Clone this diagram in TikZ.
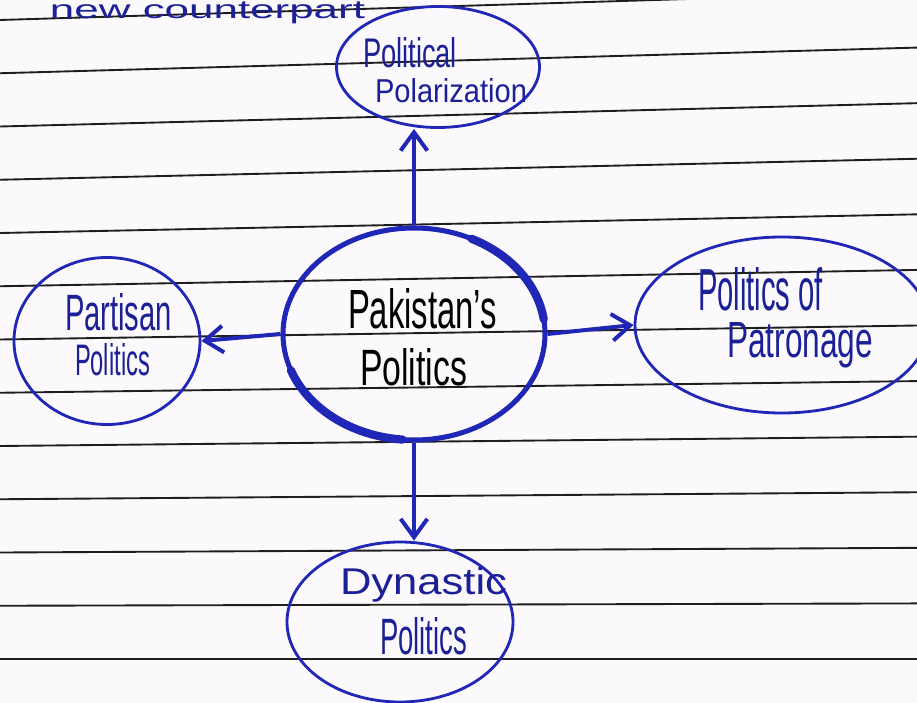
\documentclass[tikz,border=0pt]{standalone}
\usepackage{fontspec}
\usepackage{graphicx}
\setmainfont{Liberation Sans}
\usetikzlibrary{shapes.geometric,arrows.meta}
\definecolor{ink}{RGB}{32,38,182}
\definecolor{inkdark}{RGB}{28,32,150}
\definecolor{paper}{RGB}{251,249,251}
\definecolor{rulecol}{RGB}{30,30,30}
\tikzset{
  rule/.style={draw=rulecol,line width=1.6pt},
  bubble/.style={ellipse,draw=ink,line width=2.4pt,inner sep=0pt},
  centrebubble/.style={ellipse,draw=ink,line width=4.3pt,inner sep=0pt},
  thickink/.style={draw=ink,line width=7pt,line cap=round},
  conn/.style={draw=ink,line width=3.4pt,-{Straight Barb[length=0.55cm,width=0.8cm]}},
  lbl/.style={inner sep=0pt,outer sep=0pt,anchor=base west,text=inkdark},
  clbl/.style={inner sep=0pt,outer sep=0pt,anchor=base west,text=black}
}
\begin{document}
\begin{tikzpicture}[x=0.03cm,y=-0.03cm]
\useasboundingbox (0,0) rectangle (917,703);
\clip (0,0) rectangle (917,703);
\fill[paper] (0,0) rectangle (917,703);
% ruled paper
\foreach \i in {0,...,12}{
  \pgfmathsetmacro\yl{20+53.25*\i}
  \pgfmathsetmacro\yr{\yl-28*(1-\i/12)}
  \draw[rule] (0,\yl) -- (917,\yr);
}
% heading
\node[lbl] (head) at (50,19) {\resizebox{9.45cm}{0.5cm}{new counterpart}};
% bubbles
\node[centrebubble,minimum width=7.86cm,minimum height=6.36cm] (pak) at (414,334) {};
\node[bubble,minimum width=6.09cm,minimum height=3.63cm] (polar) at (438,67) {};
\node[bubble,minimum width=5.58cm,minimum height=5.01cm] (part) at (107,341) {};
\node[bubble,minimum width=8.82cm,minimum height=5.28cm] (patr) at (782,325) {};
\node[bubble,minimum width=6.78cm,minimum height=4.8cm] (dyn) at (400,622) {};
% thicker strokes on the centre circle
\draw[thickink] ([shift={(64:3.93cm and 3.18cm)}]pak.center) arc[start angle=64,end angle=8,x radius=3.93cm,y radius=3.18cm];
\draw[thickink] ([shift={(200:3.93cm and 3.18cm)}]pak.center) arc[start angle=200,end angle=265,x radius=3.93cm,y radius=3.18cm];
% connectors
\draw[conn] (pak.north) -- (pak.north |- polar.south);
\draw[conn] (pak.west) -- (part.east);
\draw[conn] (pak.east) -- (patr.west);
\draw[conn] (pak.south) -- (pak.south |- dyn.north);
% labels
\node[clbl] (t1) at (348,328) {\resizebox{4.47cm}{1.2cm}{Pakistan's}};
\node[clbl] (t2) at (360,385) {\resizebox{3.21cm}{1.11cm}{Politics}};
\node[lbl] (t3) at (363,67) {\resizebox{2.82cm}{0.9cm}{Political}};
\node[lbl] (t4) at (375,102) {\resizebox{4.56cm}{0.72cm}{Polarization}};
\node[lbl] (t5) at (65,330) {\resizebox{3.21cm}{1.11cm}{Partisan}};
\node[lbl] (t6) at (75,375) {\resizebox{2.25cm}{0.96cm}{Politics}};
\node[lbl] (t7) at (698,310) {\resizebox{3.75cm}{1.29cm}{Politics of}};
\node[lbl] (t8) at (727,357) {\resizebox{4.38cm}{1.05cm}{Patronage}};
\node[lbl] (t9) at (340,594) {\resizebox{5.01cm}{0.81cm}{Dynastic}};
\node[lbl] (t10) at (380,654) {\resizebox{2.61cm}{1.11cm}{Politics}};
\end{tikzpicture}
\end{document}
